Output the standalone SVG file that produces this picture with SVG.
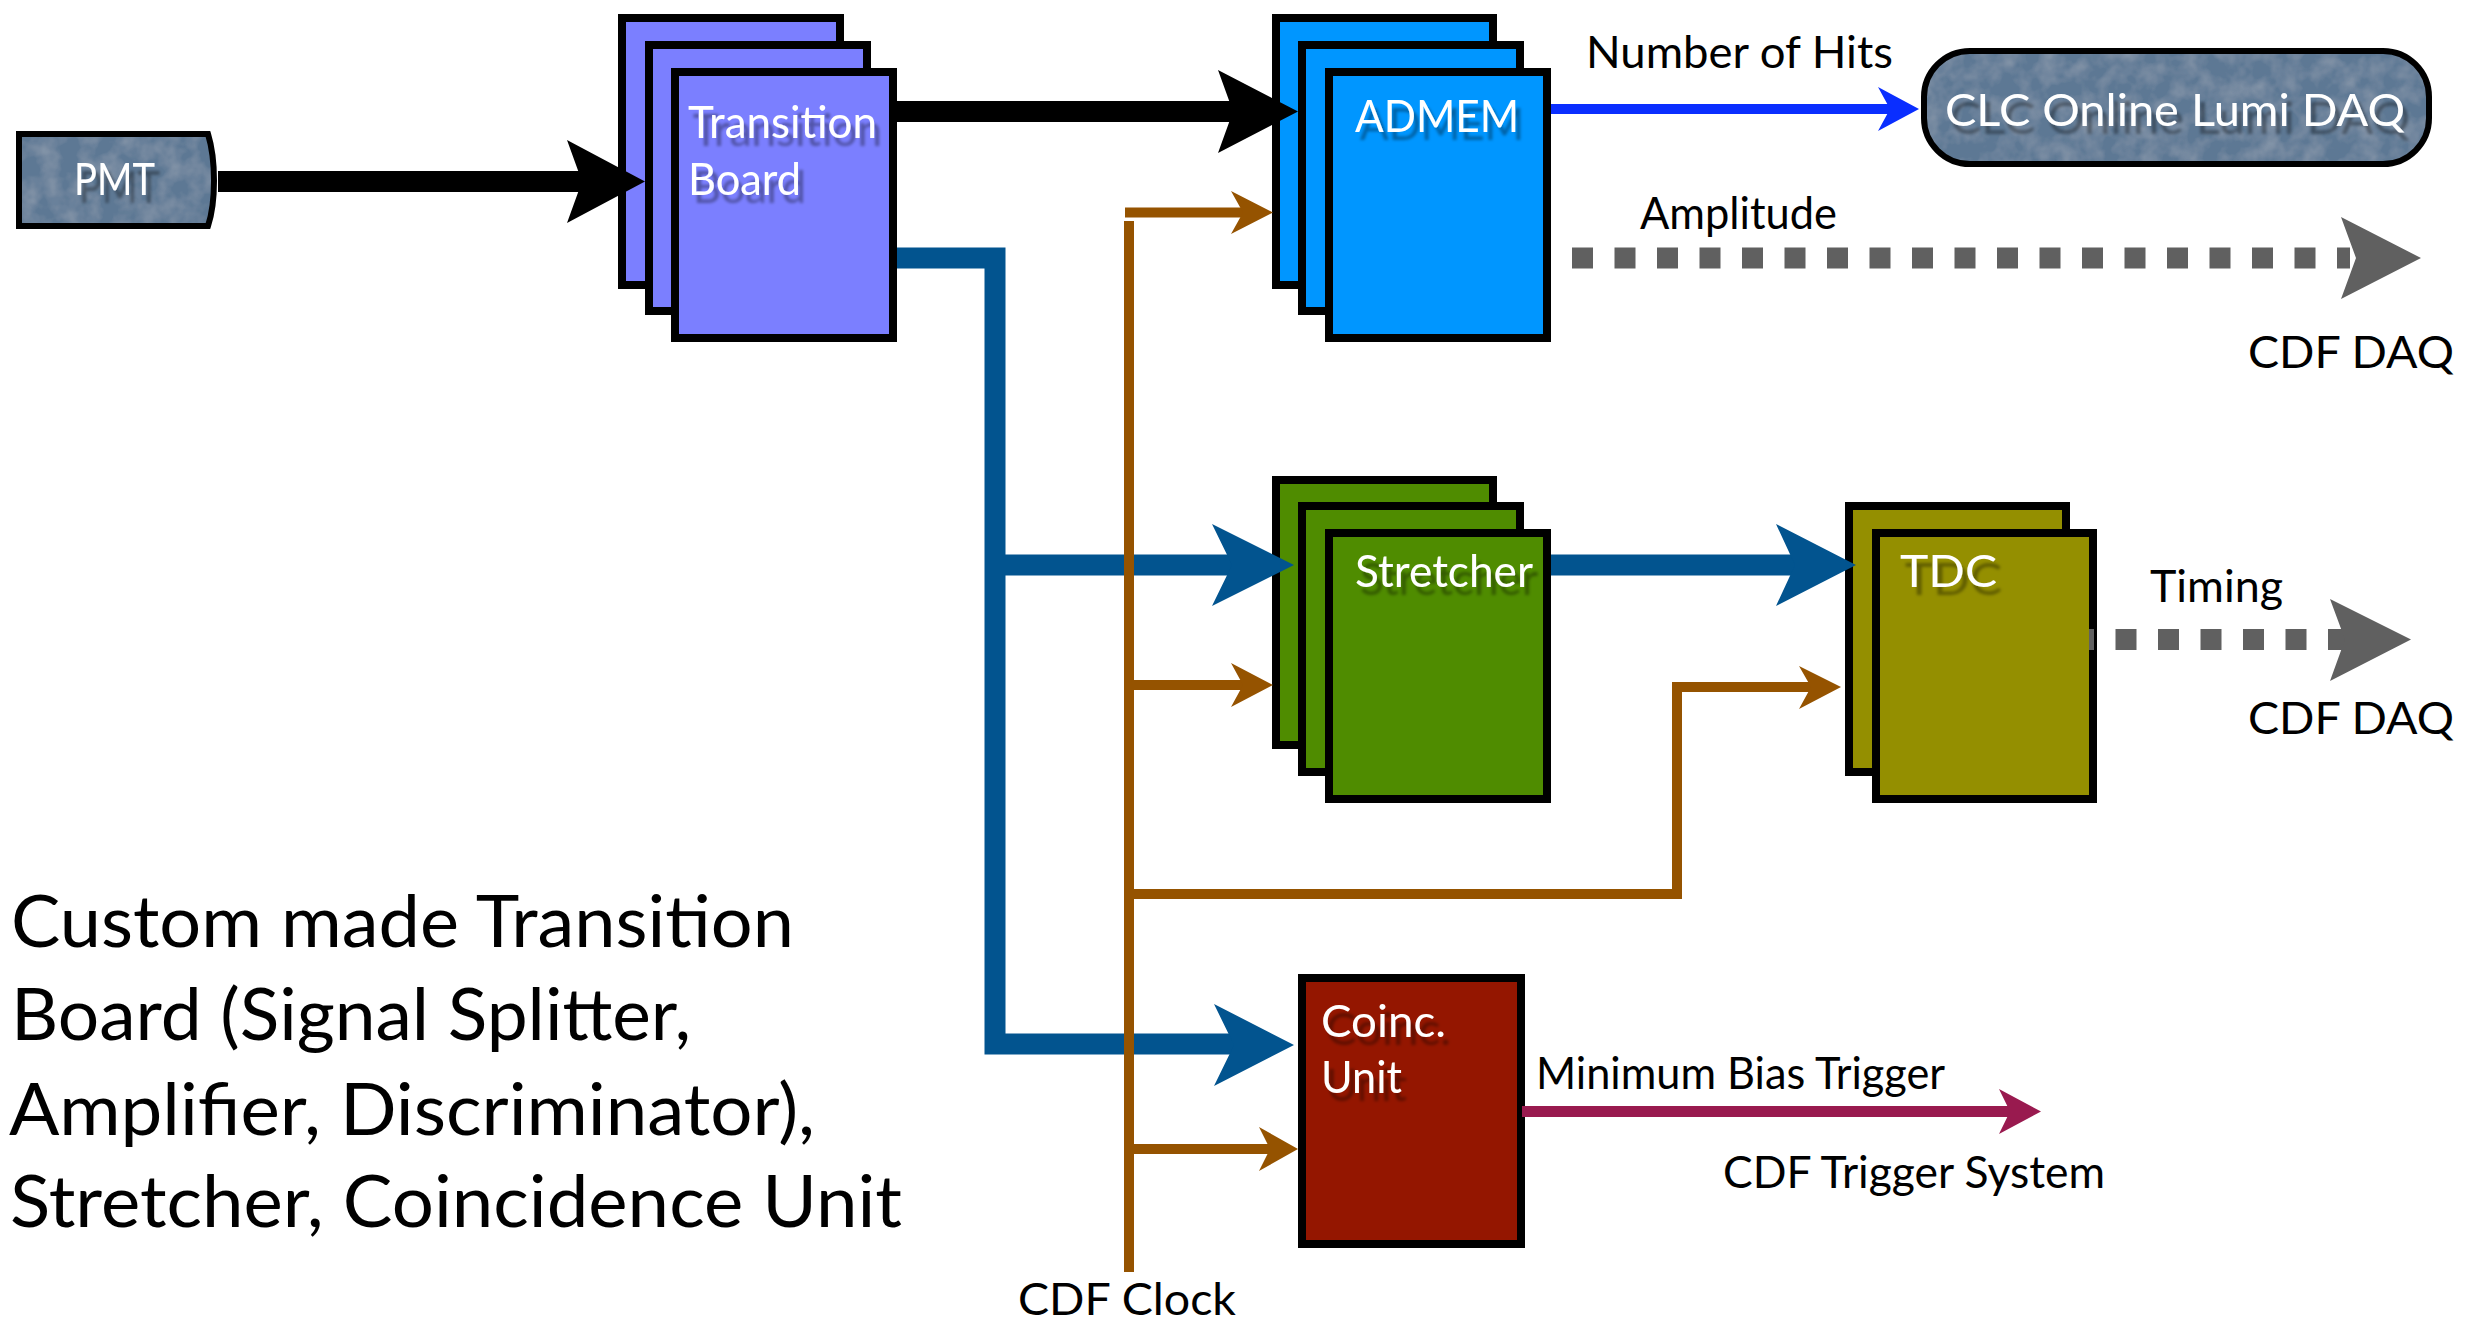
<svg xmlns="http://www.w3.org/2000/svg" width="2481" height="1322" viewBox="0 0 2481 1322">
  <style>
    text { font-family: Lato, "Liberation Sans", sans-serif; }
    .lbl { font-size: 44px; fill: #000; }
    .wht { font-size: 44px; fill: #fff; filter: url(#tshadow); }
    .big { font-size: 72px; fill: #000; }
    .card { stroke: #000; stroke-width: 8; }
    .tb { fill: #7b7fff; }
    .adm { fill: #0096ff; }
    .str { fill: #4f8c00; }
    .tdc { fill: #948f00; }
    .coi { fill: #941600; }
    .slate { fill: #5d7894; }
    .edge { fill: none; stroke: #000; stroke-width: 6; }
    .blk { stroke: #000; stroke-width: 21; fill: none; }
    .blkh { fill: #000; }
    .nav { stroke: #02548f; stroke-width: 21; fill: none; stroke-linejoin: miter; }
    .navh { fill: #02548f; }
    .brt { stroke: #0a2eff; stroke-width: 10; fill: none; }
    .brth { fill: #0a2eff; }
    .gry { stroke: #606060; stroke-width: 21; fill: none; stroke-dasharray: 21 21.5; }
    .gryh { fill: #606060; }
    .brn { stroke: #955300; stroke-width: 10; fill: none; stroke-linejoin: miter; }
    .brnh { fill: #955300; }
    .mag { stroke: #991a4f; stroke-width: 11; fill: none; }
    .magh { fill: #991a4f; }
  </style>
  <defs>
    <filter id="tshadow" x="-10%" y="-20%" width="130%" height="160%">
      <feDropShadow dx="5" dy="8" stdDeviation="1.5" flood-color="#000" flood-opacity="0.35"/>
    </filter>
    <filter id="grain" x="0" y="0" width="100%" height="100%">
      <feTurbulence type="fractalNoise" baseFrequency="0.05" numOctaves="3" seed="4" result="n"/>
      <feColorMatrix in="n" type="matrix" values="0 0 0 0 1  0 0 0 0 1  0 0 0 0 1  0.25 0 0 0 -0.09" result="w"/>
      <feComposite in="w" in2="SourceGraphic" operator="in" result="wn"/>
      <feMerge><feMergeNode in="SourceGraphic"/><feMergeNode in="wn"/></feMerge>
    </filter>
  </defs>

  <rect width="2481" height="1322" fill="#fff"/>

  <!-- PMT -->
  <g id="pmt">
    <path class="slate" filter="url(#grain)" d="M19,134 H208 C216,160 216,202 208,226 H19 Z"/>
    <path class="edge" d="M19,134 H208 C216,160 216,202 208,226 H19 Z"/>
    <text class="wht" x="74" y="195" textLength="81" lengthAdjust="spacingAndGlyphs">PMT</text>
  </g>

  <!-- Transition Board stack -->
  <g id="transition-board">
    <rect class="card tb" x="622" y="18" width="218" height="267"/>
    <rect class="card tb" x="649" y="45" width="218" height="266"/>
    <rect class="card tb" x="675" y="72" width="218" height="266"/>
    <text class="wht" x="688" y="138" textLength="189" lengthAdjust="spacingAndGlyphs">Transition</text>
    <text class="wht" x="688" y="195" textLength="113" lengthAdjust="spacingAndGlyphs">Board</text>
  </g>

  <!-- ADMEM stack -->
  <g id="admem">
    <rect class="card adm" x="1276" y="18" width="217" height="267"/>
    <rect class="card adm" x="1302" y="45" width="218" height="266"/>
    <rect class="card adm" x="1329" y="72" width="218" height="266"/>
    <text class="wht" x="1355" y="132" textLength="164" lengthAdjust="spacingAndGlyphs">ADMEM</text>
  </g>

  <!-- CLC Online Lumi DAQ -->
  <g id="clc-daq">
    <rect class="slate" filter="url(#grain)" x="1924" y="51" width="505" height="113" rx="46" ry="46"/>
    <rect class="edge" x="1924" y="51" width="505" height="113" rx="46" ry="46"/>
    <text class="wht" x="1945" y="126" textLength="460" lengthAdjust="spacingAndGlyphs">CLC Online Lumi DAQ</text>
  </g>

  <!-- Stretcher stack -->
  <g id="stretcher">
    <rect class="card str" x="1276" y="480" width="217" height="265"/>
    <rect class="card str" x="1302" y="506" width="218" height="266"/>
    <rect class="card str" x="1329" y="533" width="218" height="266"/>
    <text class="wht" x="1355" y="587" textLength="178" lengthAdjust="spacingAndGlyphs">Stretcher</text>
  </g>

  <!-- TDC stack -->
  <g id="tdc">
    <rect class="card tdc" x="1849" y="506" width="217" height="266"/>
    <rect class="card tdc" x="1876" y="533" width="217" height="266"/>
    <text class="wht" x="1900" y="587" textLength="97" lengthAdjust="spacingAndGlyphs">TDC</text>
  </g>

  <!-- Coincidence Unit -->
  <g id="coinc-unit">
    <rect class="card coi" x="1302" y="978" width="219" height="266"/>
    <text class="wht" x="1321" y="1037" textLength="125" lengthAdjust="spacingAndGlyphs">Coinc.</text>
    <text class="wht" x="1321" y="1093" textLength="81" lengthAdjust="spacingAndGlyphs">Unit</text>
  </g>

  <!-- Connectors -->
  <g id="connectors">
    <!-- PMT to Transition Board -->
    <line class="blk" x1="218" y1="181.5" x2="586" y2="181.5"/>
    <polygon class="blkh" points="645,181.5 567,140 582,181.5 567,223"/>
    <!-- Transition Board to ADMEM -->
    <line class="blk" x1="897" y1="111.5" x2="1237" y2="111.5"/>
    <polygon class="blkh" points="1298,111.5 1218,70 1233,111.5 1218,153"/>
    <!-- Number of Hits -->
    <line class="brt" x1="1551" y1="109" x2="1892" y2="109"/>
    <polygon class="brth" points="1919,109 1878,87 1890,109 1878,131"/>
    <!-- Amplitude -->
    <line class="gry" x1="1572" y1="258" x2="2350" y2="258"/>
    <polygon class="gryh" points="2421,258 2341,217 2356,258 2341,299"/>
    <!-- Transition Board fan-out -->
    <path class="nav" d="M897,258 H995 V1044 H1234"/>
    <line class="nav" x1="995" y1="565" x2="1234" y2="565"/>
    <polygon class="navh" points="1294,565 1212,524 1232,565 1212,606"/>
    <polygon class="navh" points="1294,1045 1214,1004 1234,1045 1214,1086"/>
    <!-- Stretcher to TDC -->
    <line class="nav" x1="1551" y1="565" x2="1798" y2="565"/>
    <polygon class="navh" points="1856,565 1776,524 1795,565 1776,606"/>
    <!-- Timing -->
    <line class="gry" x1="2089" y1="639.5" x2="2345" y2="639.5" stroke-dashoffset="16"/>
    <polygon class="gryh" points="2411,639.5 2330,599 2345,639.5 2330,681"/>
    <!-- CDF Clock distribution -->
    <line class="brn" x1="1129" y1="221" x2="1129" y2="1272"/>
    <line class="brn" x1="1125" y1="212.5" x2="1246" y2="212.5"/>
    <polygon class="brnh" points="1273,212.5 1231,191 1243,212.5 1231,234"/>
    <line class="brn" x1="1129" y1="685" x2="1246" y2="685"/>
    <polygon class="brnh" points="1273,685 1231,663 1243,685 1231,707"/>
    <path class="brn" d="M1129,894 H1677 V687 H1813"/>
    <polygon class="brnh" points="1841,687 1799,666 1811,687 1799,709"/>
    <line class="brn" x1="1129" y1="1149" x2="1272" y2="1149"/>
    <polygon class="brnh" points="1298,1149 1259,1127 1270,1149 1259,1171"/>
    <!-- Minimum Bias Trigger -->
    <line class="mag" x1="1522" y1="1111.5" x2="2012" y2="1111.5"/>
    <polygon class="magh" points="2041,1111.5 1999,1089 2010,1111.5 1999,1134"/>
  </g>

  <!-- Connector labels -->
  <g id="labels">
    <text class="lbl" x="1586" y="68" textLength="307" lengthAdjust="spacingAndGlyphs">Number of Hits</text>
    <text class="lbl" x="1640" y="229" textLength="197" lengthAdjust="spacingAndGlyphs">Amplitude</text>
    <text class="lbl" x="2248" y="368" textLength="206" lengthAdjust="spacingAndGlyphs">CDF DAQ</text>
    <text class="lbl" x="2150" y="602" textLength="133" lengthAdjust="spacingAndGlyphs">Timing</text>
    <text class="lbl" x="2248" y="734" textLength="206" lengthAdjust="spacingAndGlyphs">CDF DAQ</text>
    <text class="lbl" x="1536" y="1089" textLength="409" lengthAdjust="spacingAndGlyphs">Minimum Bias Trigger</text>
    <text class="lbl" x="1723" y="1188" textLength="382" lengthAdjust="spacingAndGlyphs">CDF Trigger System</text>
    <text class="lbl" x="1018" y="1315" textLength="218" lengthAdjust="spacingAndGlyphs">CDF Clock</text>
  </g>

  <!-- Caption -->
  <g id="caption">
    <text class="big" x="11" y="947" textLength="783" lengthAdjust="spacingAndGlyphs">Custom made Transition</text>
    <text class="big" x="11" y="1040" textLength="680" lengthAdjust="spacingAndGlyphs">Board (Signal Splitter,</text>
    <text class="big" x="9" y="1135" textLength="806" lengthAdjust="spacingAndGlyphs">Amplifier, Discriminator),</text>
    <text class="big" x="10" y="1227" textLength="892" lengthAdjust="spacingAndGlyphs">Stretcher, Coincidence Unit</text>
  </g>
</svg>
